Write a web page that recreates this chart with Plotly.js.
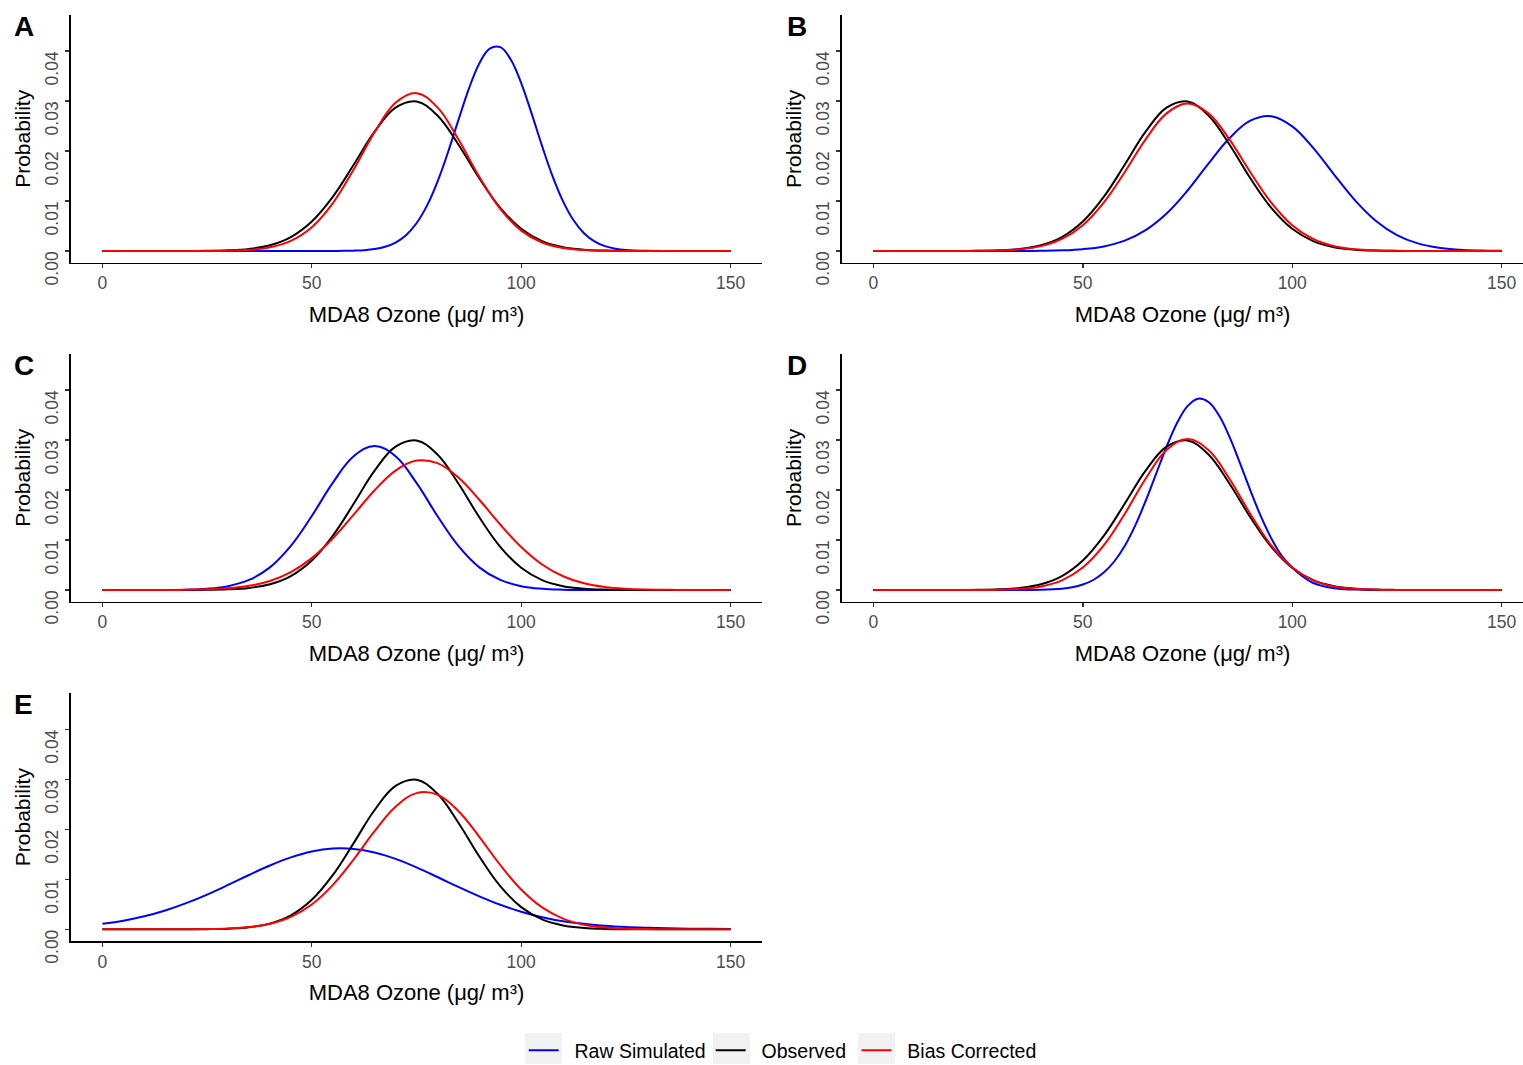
<!DOCTYPE html>
<html>
<head>
<meta charset="utf-8">
<script src="https://cdn.plot.ly/plotly-3.0.1.min.js"></script>
<style>html,body{margin:0;padding:0;background:#fff;}#chart{width:1523px;height:1065px;}</style>
</head>
<body>
<div id="chart"></div>
<script>
// ---- data (MDA8 ozone grid, µg/m3) ----
const ozone = [0,5,10,15,20,25,30,35,40,45,50,55,60,65,70,75,80,85,90,95,100,105,110,115,120,125,130,135,140,145,150];
// finer grid used for the two narrow raw-simulated curves (A, D)
const ozoneFine = [0,10,20,30,40,45,47.5,50,52.5,55,57.5,60,62.5,65,67.5,70,72.5,75,77.5,80,82.5,85,87.5,90,92.5,95,97.5,100,102.5,105,107.5,110,112.5,115,117.5,120,122.5,125,130,140,150];
const panelLabels = ['A','B','C','D','E'];
const seriesNames = ['Raw Simulated','Observed','Bias Corrected'];
const xTitle = 'MDA8 Ozone (μg/ m³)';
const yTitle = 'Probability';
const yTickVals = [0,0.01,0.02,0.03,0.04];
const yTickText = ['0.00','0.01','0.02','0.03','0.04'];
const xTickVals = [0,50,100,150];
const xTickText = ['0','50','100','150'];

const observed = [0,0,0,0.000002,0.000008,0.000034,0.000126,0.00041,0.00114,0.00278,0.00589,0.01082,0.01724,0.02386,0.02867,0.02992,0.0271,0.02131,0.01455,0.00863,0.00444,0.00198,0.00077,0.00026,0.000076,0.000019,0.000004,0,0,0,0];

const rawA = [0,0,0,0,0,0,0,0.000001,0.000003,0.000009,0.000026,0.00007,0.000168,0.00039,0.00084,0.00168,0.00317,0.00555,0.00907,0.01384,0.0197,0.02617,0.03244,0.03752,0.04049,0.04077,0.03831,0.03359,0.02747,0.02097,0.01494,0.00993,0.00615,0.00356,0.00192,0.00097,0.000455,0.0002,0.00003,0,0];
const corA = [0,0,0,0,0.000003,0.000014,0.000062,0.00023,0.00074,0.00204,0.00477,0.00954,0.0163,0.02378,0.02965,0.03157,0.02873,0.02233,0.01483,0.00841,0.00408,0.00169,0.0006,0.00018,0.000047,0.00001,0.000002,0,0,0,0];

const rawB = [0,0,0,0,0,0.0000007,0.000003,0.000012,0.000041,0.00013,0.00037,0.00092,0.00207,0.00417,0.0075,0.0121,0.01747,0.02255,0.02606,0.02694,0.02492,0.02063,0.01529,0.01013,0.00601,0.00319,0.00152,0.00064,0.00024,0.000083,0.000025];
const corB = [0,0,0,0,0.0000065,0.000028,0.000105,0.00034,0.00097,0.00241,0.00517,0.00969,0.01576,0.02233,0.02752,0.0295,0.02752,0.02233,0.01576,0.00969,0.00517,0.00241,0.00097,0.00034,0.000105,0.000028,0.0000065,0,0,0,0];

const rawC = [0,0.0000007,0.0000037,0.0000176,0.000072,0.000253,0.00077,0.00201,0.00453,0.00882,0.0148,0.02142,0.02675,0.0288,0.02675,0.02142,0.0148,0.00882,0.00453,0.00201,0.00077,0.000253,0.000072,0.0000176,0.0000037,0.0000007,0,0,0,0,0];
const corC = [0,0.000001,0.0000037,0.0000134,0.0000434,0.000128,0.00034,0.00083,0.0018,0.00356,0.00637,0.0103,0.01507,0.01995,0.02389,0.02588,0.02537,0.0225,0.01805,0.0131,0.0086,0.00511,0.00275,0.00134,0.00059,0.000234,0.000084,0.000027,0.000008,0.000002,0];

const rawD = [0,0,0,0,0.000055,0.00027,0.00056,0.0011,0.002,0.00348,0.0057,0.00881,0.01288,0.0178,0.02323,0.02865,0.03339,0.03677,0.03826,0.03761,0.03494,0.03067,0.02544,0.01993,0.01476,0.01033,0.00683,0.0045,0.0027,0.0014,0.00074,0.00037,0.00017,0.000077,0.00003,0.000013,0.000005,0,0,0,0];
const corD = [0,0,0,0,0.000003,0.000015,0.000063,0.00023,0.00072,0.00194,0.00449,0.00891,0.0152,0.02226,0.02798,0.0302,0.02798,0.02226,0.0152,0.00891,0.00449,0.00194,0.00072,0.00023,0.000063,0.000015,0.000003,0,0,0,0];

const rawE = [0.0011,0.00173,0.00261,0.00377,0.00523,0.00695,0.00887,0.01086,0.01276,0.01438,0.01556,0.01615,0.01608,0.01537,0.01409,0.01239,0.01046,0.00847,0.00659,0.00491,0.00352,0.00241,0.00159,0.0011,0.0007,0.00045,0.0003,0.0002,0.00013,0.0001,0.00008];
const corE = [0,0,0,0.000003,0.0000135,0.000048,0.000155,0.00044,0.00111,0.00249,0.00497,0.00884,0.01396,0.01962,0.02451,0.02724,0.02693,0.02367,0.0185,0.01286,0.00795,0.00437,0.00214,0.00093,0.00036,0.00012,0.000038,0.00001,0,0,0];

const rawSeries = [rawA, rawB, rawC, rawD, rawE];
const rawGrid = [ozoneFine, ozone, ozone, ozoneFine, ozone];
const corSeries = [corA, corB, corC, corD, corE];

// ---- layout geometry ----
const W = 1523, H = 1065;
const colX = [[71, 762], [842, 1523]];
const colRange = [[-7.5, 157.5], [-7.5, 155.1]];
const rowY = [[15, 262.7], [354, 601.7], [693.3, 941]];
const panelPos = [[0,0],[1,0],[0,1],[1,1],[0,2]];
const colors = ['#0000FF', '#000000', '#FF0000'];
const FONT = 'Liberation Sans, Arial, Helvetica, sans-serif';
const NB = '\u00a0';
// legend labels padded with non-breaking spaces to reproduce the key/text spacing
const legendLabels = [NB + NB + seriesNames[0], NB + NB + seriesNames[1] + NB, NB + NB + seriesNames[2]];

const traces = [];
const layout = {
  width: W, height: H,
  margin: {l: 0, r: 0, t: 0, b: 0, autoexpand: false},
  paper_bgcolor: '#ffffff', plot_bgcolor: 'rgba(0,0,0,0)',
  font: {family: FONT, color: '#000'},
  showlegend: true,
  legend: {orientation: 'h', x: 523.7 / W, xanchor: 'left', y: 1 - 1050.7 / H, yanchor: 'middle',
           font: {size: 19.5, color: '#000', family: FONT}, bgcolor: 'rgba(0,0,0,0)',
           itemwidth: 30, traceorder: 'normal'},
  annotations: [], shapes: []
};

panelLabels.forEach((lab, i) => {
  const [c, r] = panelPos[i];
  const n = i === 0 ? '' : String(i + 1);
  const xa = 'x' + n, ya = 'y' + n;
  const series = [rawSeries[i], observed, corSeries[i]];
  const grids = [rawGrid[i], ozone, ozone];
  series.forEach((vals, k) => {
    traces.push({
      type: 'scatter', mode: 'lines', x: grids[k], y: vals,
      xaxis: xa, yaxis: ya, name: legendLabels[k], legendgroup: seriesNames[k],
      showlegend: i === 0,
      line: {color: colors[k], width: 2, shape: 'spline', smoothing: 1.1},
      hoverinfo: 'skip'
    });
  });
  const xd = colX[c], yd = rowY[r];
  layout['xaxis' + n] = {
    domain: [xd[0] / W, Math.min(1, xd[1] / W)], anchor: ya, range: colRange[c],
    showline: true, linecolor: '#000', linewidth: 1.6, showgrid: false, zeroline: false,
    ticks: 'outside', ticklen: 4, tickwidth: 1.4, tickcolor: '#333333',
    tickmode: 'array', tickvals: xTickVals, ticktext: xTickText,
    tickfont: {size: 17.5, color: '#4d4d4d', family: FONT},
    title: {text: xTitle, font: {size: 22, color: '#000', family: FONT}, standoff: 14},
    fixedrange: true
  };
  layout['yaxis' + n] = {
    domain: [1 - yd[1] / H, 1 - yd[0] / H], anchor: xa, range: [-0.00234, 0.0472],
    showline: true, linecolor: '#000', linewidth: 1.6, showgrid: false, zeroline: false,
    ticks: 'outside', ticklen: 4, tickwidth: 1.4, tickcolor: '#333333',
    tickmode: 'array', tickvals: yTickVals, ticktext: yTickText, tickangle: -90,
    ticklabelshift: 20,
    tickfont: {size: 17.5, color: '#4d4d4d', family: FONT},
    title: {text: yTitle, font: {size: 21, color: '#000', family: FONT}, standoff: 6},
    fixedrange: true
  };
  layout.annotations.push({
    text: lab, xref: 'paper', yref: 'paper',
    x: (c === 0 ? 12 : 785) / W, y: 1 - (yd[0] + 11) / H,
    xanchor: 'left', yanchor: 'middle', showarrow: false,
    font: {size: 28, color: '#000', family: FONT, weight: 'bold'}
  });
});

// grey legend key backgrounds
[[525, 562], [713, 750], [858, 895]].forEach(b => {
  layout.shapes.push({type: 'rect', xref: 'paper', yref: 'paper', layer: 'below',
    x0: b[0] / W, x1: b[1] / W, y0: 1 - 1064 / H, y1: 1 - 1033 / H,
    fillcolor: '#F2F2F2', line: {width: 0}});
});

Plotly.newPlot('chart', traces, layout, {displayModeBar: false, staticPlot: true});
</script>
</body>
</html>
